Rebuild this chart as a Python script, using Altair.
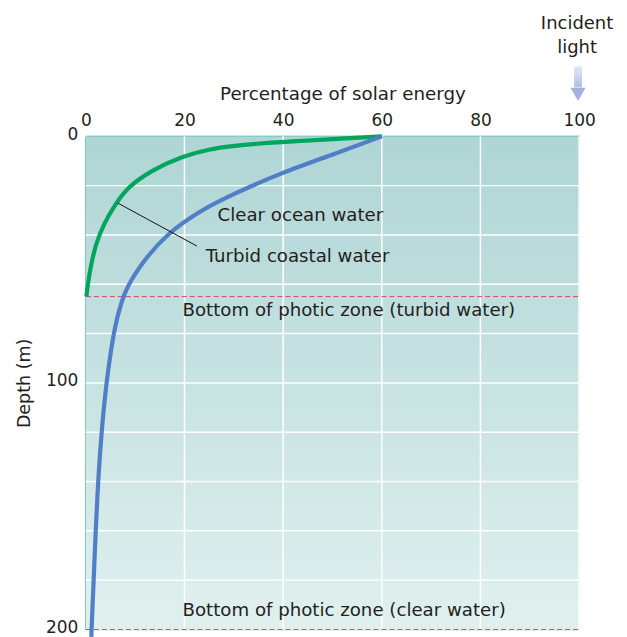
import altair as alt
import pandas as pd

# ---- data ----
turbid_pct = [60, 49.4, 43.0, 35.0, 29.5, 25.5, 19.6, 13.1, 8.4, 6.0, 3.6, 2.0, 0.95, 0.4, 0.1]
turbid_depth = [0, 1.2, 1.9, 2.9, 4.0, 5.0, 8.0, 14.0, 20.8, 27.5, 35.6, 43.7, 53, 60, 65]

clear_pct = [60, 50, 39.6, 29.8, 23.1, 16.3, 11.5, 8.3, 7.3, 5.8, 4.2, 3.2, 2.5, 2.0, 1.6, 1.15, 1.1]
clear_depth = [0, 7.5, 14.8, 23.5, 30.2, 39.7, 51, 61.2, 66.7, 77, 98.8, 119, 139, 159.5, 179, 200, 203]

x_ticks = [0, 20, 40, 60, 80, 100]
y_ticks = [0, 100, 200]
y_grid = [20, 40, 60, 80, 100, 120, 140, 160, 180]
x_grid = [20, 40, 60, 80, 100]

photic_depths = [65, 200]
photic_labels = ["Bottom of photic zone (turbid water)", "Bottom of photic zone (clear water)"]

curve_labels = ["Clear ocean water", "Turbid coastal water"]
incident_lines = ["Incident", "light"]

FONT = "DejaVu Sans"
TXT = "#231f20"
GREEN = "#00a65d"
BLUE = "#507fc8"
TEAL = "#22a79d"
ANN = 18.2

W, H = 494, 494

xs = alt.Scale(domain=[0, 100], nice=False, zero=False)
ys = alt.Scale(domain=[0, 200], reverse=True, nice=False, zero=False)

turbid = pd.DataFrame({"pct": turbid_pct, "depth": turbid_depth})
clear = pd.DataFrame({"pct": clear_pct, "depth": clear_depth})

# background with vertical gradient
bg = alt.Chart(pd.DataFrame({"x0": [0], "x1": [100], "y0": [0], "y1": [200]})).mark_rect(
    fill=alt.Gradient(
        gradient="linear", x1=0, y1=0, x2=0, y2=1,
        stops=[alt.GradientStop(color="#afd5d5", offset=0),
               alt.GradientStop(color="#e0f0ef", offset=1)],
    ),
).encode(
    x=alt.X("x0:Q", scale=xs, axis=alt.Axis(
        orient="top", values=x_ticks, title="Percentage of solar energy",
        grid=False, ticks=False, domainColor=TEAL, domainWidth=2,
        labelFont=FONT, labelFontSize=17, labelColor=TXT, labelPadding=7,
        titleFont=FONT, titleFontSize=18.3, titleFontWeight="normal", titleColor=TXT,
        titleX=257, titleY=-42, titleAlign="center", titleBaseline="middle",
        labelFlush=False)),
    x2="x1:Q",
    y=alt.Y("y0:Q", scale=ys, axis=alt.Axis(
        values=y_ticks, title="Depth (m)", grid=False, ticks=False,
        domainColor=TEAL, domainWidth=2,
        labelFont=FONT, labelFontSize=17, labelColor=TXT, labelPadding=8, labelOffset=-2,
        titleFont=FONT, titleFontSize=17.5, titleFontWeight="normal", titleColor=TXT,
        titlePadding=12, labelFlush=False)),
    y2="y1:Q",
)

hgrid = alt.Chart(pd.DataFrame({"d": y_grid})).mark_rule(color="white", strokeWidth=1.5).encode(
    y=alt.Y("d:Q", scale=ys), x=alt.value(0), x2=alt.value(W))
vgrid = alt.Chart(pd.DataFrame({"p": x_grid})).mark_rule(color="white", strokeWidth=1.5).encode(
    x=alt.X("p:Q", scale=xs), y=alt.value(0), y2=alt.value(H))

photic = pd.DataFrame({"depth": photic_depths, "label": photic_labels})
dashes = alt.Chart(photic).mark_rule(color="#d24b6a", strokeWidth=1, strokeDash=[5, 3], clip=False).encode(
    y=alt.Y("depth:Q", scale=ys), x=alt.value(0), x2=alt.value(W))
photic_text = alt.Chart(pd.DataFrame({"depth": [70.9, 192.3], "x": [19.6, 19.6], "label": photic_labels})).mark_text(
    font=FONT, fontSize=ANN, color=TXT, align="left", baseline="middle").encode(
    x=alt.X("x:Q", scale=xs), y=alt.Y("depth:Q", scale=ys), text="label:N")

line_t = alt.Chart(turbid).mark_line(color=GREEN, strokeWidth=4.2, interpolate="basis").encode(
    x=alt.X("pct:Q", scale=xs), y=alt.Y("depth:Q", scale=ys), order="depth:Q")
line_c = alt.Chart(clear).mark_line(color=BLUE, strokeWidth=4.2, interpolate="basis", clip=False).encode(
    x=alt.X("pct:Q", scale=xs), y=alt.Y("depth:Q", scale=ys), order="depth:Q")

leader = alt.Chart(pd.DataFrame({"a": [6.5], "b": [22.5], "da": [27.1], "db": [44.5]})).mark_rule(
    color="#111111", strokeWidth=1).encode(
    x=alt.X("a:Q", scale=xs), x2="b:Q", y=alt.Y("da:Q", scale=ys), y2="db:Q")

curve_text = alt.Chart(pd.DataFrame({"x": [26.7, 24.3], "depth": [32.4, 49.0], "label": curve_labels})).mark_text(
    font=FONT, fontSize=ANN, color=TXT, align="left", baseline="middle").encode(
    x=alt.X("x:Q", scale=xs), y=alt.Y("depth:Q", scale=ys), text="label:N")

incident1 = alt.Chart(pd.DataFrame({"t": [incident_lines[0]]})).mark_text(
    font=FONT, fontSize=18, color=TXT, align="center", baseline="middle").encode(
    x=alt.value(492), y=alt.value(-112), text="t:N")
incident2 = alt.Chart(pd.DataFrame({"t": [incident_lines[1]]})).mark_text(
    font=FONT, fontSize=18, color=TXT, align="center", baseline="middle").encode(
    x=alt.value(492), y=alt.value(-88), text="t:N")

shaft = alt.Chart(pd.DataFrame({"k": [0]})).mark_rect(
    fill=alt.Gradient(gradient="linear", x1=0, y1=0, x2=0, y2=1,
                      stops=[alt.GradientStop(color="#e4e8f6", offset=0),
                             alt.GradientStop(color="#b3bce4", offset=1)])).encode(
    x=alt.value(489), x2=alt.value(497), y=alt.value(-70), y2=alt.value(-49))
head = alt.Chart(pd.DataFrame({"k": [0]})).mark_point(
    shape="triangle-down", filled=True, fill="#a7b1df", opacity=1, size=230, strokeWidth=0).encode(
    x=alt.value(493), y=alt.value(-42))

chart = alt.layer(
    bg, hgrid, vgrid, dashes, line_t, line_c, leader, curve_text, photic_text,
    incident1, incident2, shaft, head
).properties(
    width=W, height=H,
    autosize=alt.AutoSizeParams(type="none"),
    padding={"left": 78, "top": 128, "right": 40, "bottom": 7},
).configure_view(stroke=None).configure(background="white")

chart.save("out.html", embed_options={"renderer": "svg", "actions": False})
